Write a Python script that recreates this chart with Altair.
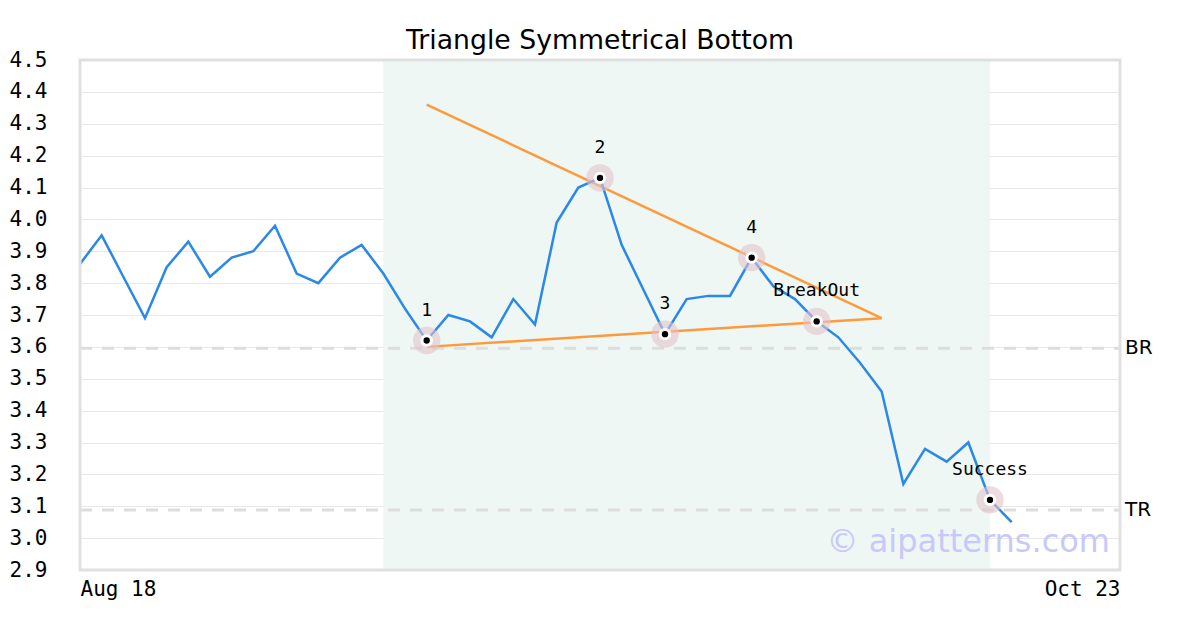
import altair as alt
import pandas as pd

# ---- data ----
prices = [3.86, 3.95, 3.82, 3.69, 3.85, 3.93, 3.82, 3.88, 3.90, 3.98,
          3.83, 3.80, 3.88, 3.92, 3.83, 3.72, 3.62, 3.70, 3.68, 3.63,
          3.75, 3.67, 3.99, 4.10, 4.13, 3.92, 3.78, 3.64, 3.75, 3.76,
          3.76, 3.88, 3.79, 3.75, 3.68, 3.63, 3.55, 3.46, 3.17, 3.28,
          3.24, 3.30, 3.12, 3.05]
idx = list(range(len(prices)))

x_tick_values = [0, 48]
x_tick_labels = ["Aug 18", "Oct 23"]
y_ticks = [2.9, 3.0, 3.1, 3.2, 3.3, 3.4, 3.5, 3.6, 3.7, 3.8, 3.9,
           4.0, 4.1, 4.2, 4.3, 4.4, 4.5]

shade_start = [14]
shade_end = [42]

upper_x = [16, 37]
upper_y = [4.36, 3.69]
lower_x = [16, 37]
lower_y = [3.60, 3.69]

marker_x = [16, 24, 27, 31, 34, 42]
marker_y = [3.62, 4.13, 3.64, 3.88, 3.68, 3.12]
marker_labels = ["1", "2", "3", "4", "BreakOut", "Success"]

level_names = ["BR", "TR"]
level_values = [3.596, 3.088]

title_text = "Triangle Symmetrical Bottom"
watermark = "© aipatterns.com"

# ---- tables ----
df = pd.DataFrame({"i": idx, "price": prices})
shade_df = pd.DataFrame({"start": shade_start, "end": shade_end})
tri_df = pd.DataFrame({
    "i": upper_x + lower_x,
    "v": upper_y + lower_y,
    "side": ["upper"] * 2 + ["lower"] * 2,
})
mk_df = pd.DataFrame({"i": marker_x, "price": marker_y, "label": marker_labels})
lvl_df = pd.DataFrame({"name": level_names, "v": level_values})
wm_df = pd.DataFrame({"t": [watermark]})

W, H = 1040, 510
xscale = alt.Scale(domain=[0, 48], nice=False, zero=False)
yscale = alt.Scale(domain=[2.9, 4.5], nice=False, zero=False)

label_expr = " : ".join(
    [f"datum.value == {v} ? '{l}'" for v, l in zip(x_tick_values[:-1], x_tick_labels[:-1])]
    + [f"'{x_tick_labels[-1]}'"]
)

x_axis = alt.Axis(values=x_tick_values, labelExpr=label_expr, labelFlush=True,
                  grid=False, ticks=False, domain=False, title=None,
                  labelFont="DejaVu Sans Mono", labelFontSize=21,
                  labelColor="#000", labelPadding=8, labelBaseline="top")
y_axis = alt.Axis(values=y_ticks, format=".1f", grid=True, gridColor="#e8e8e8",
                  gridWidth=1, ticks=False, tickSize=0, domain=False, title=None,
                  labelAlign="left", labelPadding=71, labelBaseline="middle",
                  labelOverlap=False, labelBound=False,
                  labelFont="DejaVu Sans Mono", labelFontSize=21, labelColor="#000")


def X(field):
    return alt.X(field, scale=xscale, axis=x_axis)


def Y(field):
    return alt.Y(field, scale=yscale, axis=y_axis)


shade = alt.Chart(shade_df).mark_rect(color="#eef7f3").encode(
    x=X("start:Q"), x2="end:Q",
    y=alt.value(0), y2=alt.value(H),
)

grid_holder = alt.Chart(df).mark_line(opacity=0).encode(
    x=X("i:Q"), y=Y("price:Q"))

levels = alt.Chart(lvl_df).mark_rule(color="#dddddd", strokeWidth=3,
                                     strokeDash=[12, 10]).encode(
    y=Y("v:Q"), x=alt.value(0), x2=alt.value(W))

level_text = alt.Chart(lvl_df).mark_text(align="left", baseline="middle",
                                         font="DejaVu Sans", fontSize=20,
                                         color="#000").encode(
    y=Y("v:Q"), x=alt.value(W + 5), text="name:N")

tri = alt.Chart(tri_df).mark_line(color="#ff9a3c", strokeWidth=2.5).encode(
    x=X("i:Q"), y=Y("v:Q"), detail="side:N")

line = alt.Chart(df).mark_line(color="#2a88e8", strokeWidth=2.5).encode(
    x=X("i:Q"), y=Y("price:Q"))

halo = alt.Chart(mk_df).mark_circle(size=750, color="#e2c3cb", opacity=0.6).encode(
    x=X("i:Q"), y=Y("price:Q"))
white = alt.Chart(mk_df).mark_circle(size=155, color="#ffffff", opacity=1).encode(
    x=X("i:Q"), y=Y("price:Q"))
dot = alt.Chart(mk_df).mark_circle(size=40, color="#000000", opacity=1).encode(
    x=X("i:Q"), y=Y("price:Q"))
mlabels = alt.Chart(mk_df).mark_text(dy=-30, baseline="middle", align="center",
                                     font="DejaVu Sans Mono", fontSize=18,
                                     color="#000").encode(
    x=X("i:Q"), y=Y("price:Q"), text="label:N")

wm = alt.Chart(wm_df).mark_text(align="right", baseline="middle", font="DejaVu Sans",
                                fontSize=32, color="#c8c8fa").encode(
    x=alt.value(W - 10), y=alt.value(482), text="t:N")

border = alt.Chart(wm_df).mark_rect(fill=None, fillOpacity=0, stroke="#e0e0e0",
                                    strokeWidth=3).encode(
    x=alt.value(0), x2=alt.value(W), y=alt.value(0), y2=alt.value(H))

chart = alt.layer(shade, grid_holder, levels, tri, line, halo, white, dot,
                  mlabels, level_text, wm, border).properties(
    width=W, height=H,
    title=alt.TitleParams(title_text, font="DejaVu Sans", fontSize=26.7,
                          fontWeight="normal", color="#000", offset=-6),
    autosize=alt.AutoSizeParams(type="none"),
    padding={"left": 72, "top": 52, "right": 72, "bottom": 52},
).configure_view(stroke="#e0e0e0", strokeWidth=3).configure(background="white")

chart.save("out.html", embed_options={"renderer": "svg", "actions": False})
